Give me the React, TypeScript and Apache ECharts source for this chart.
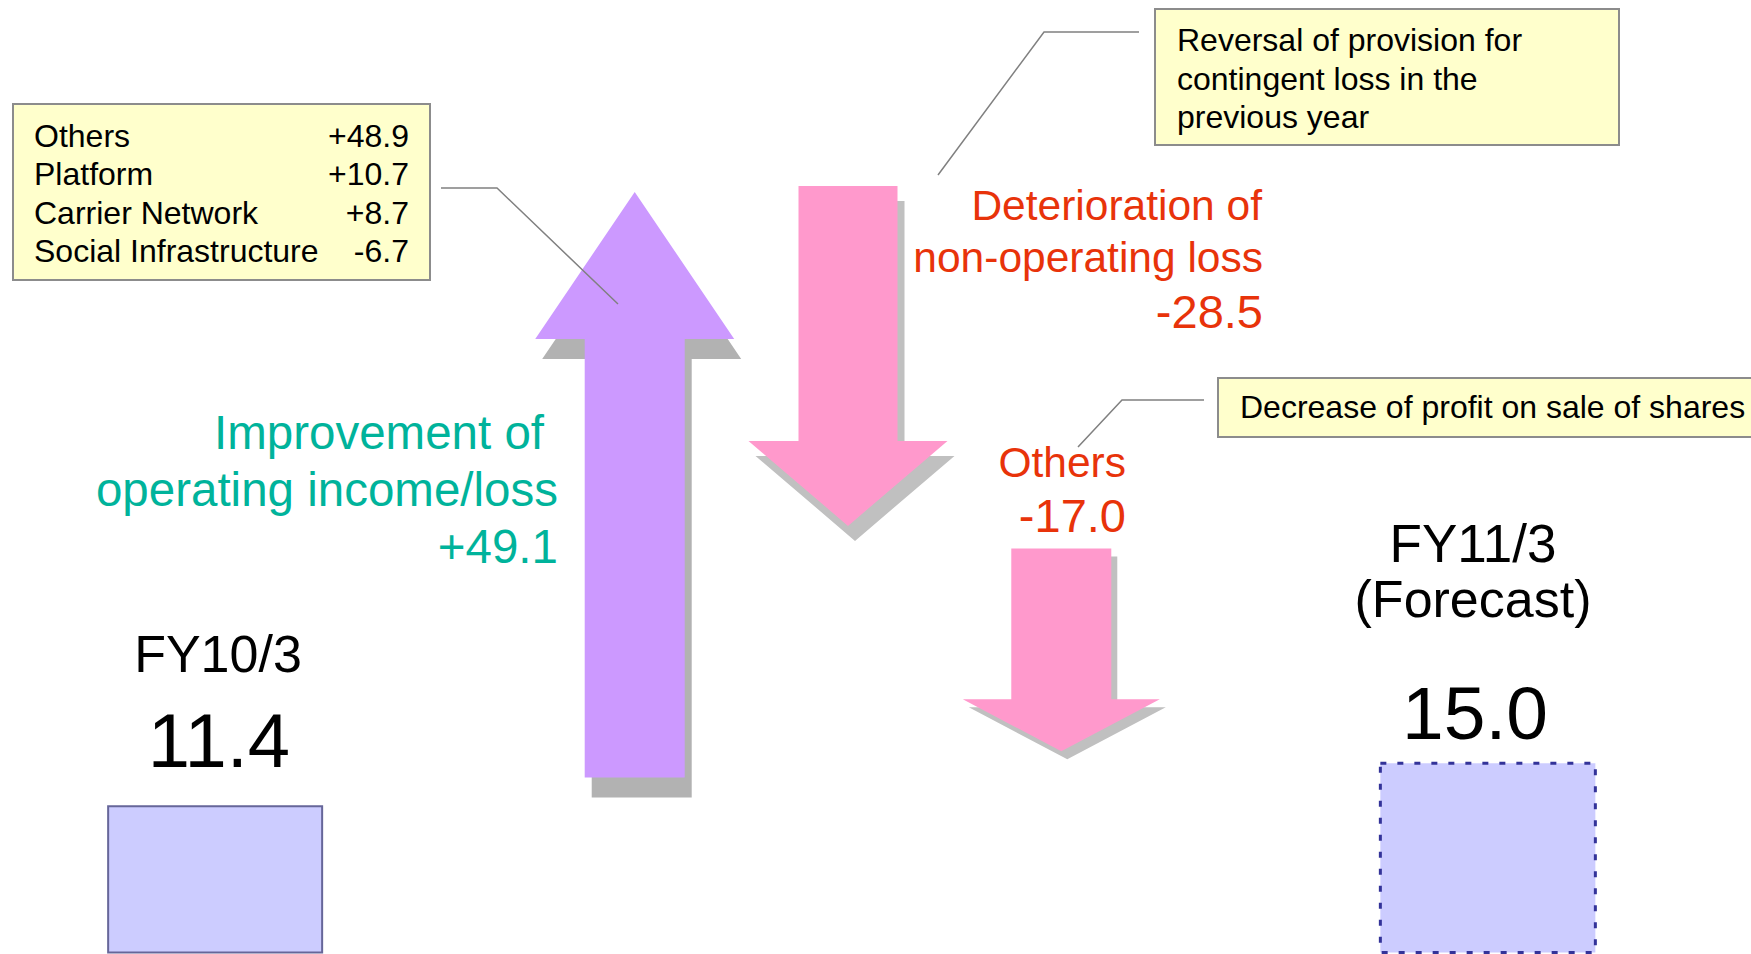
import React, { useEffect, useRef } from "react";
import * as echarts from "echarts";

// ---------- data ----------
const categories = ["FY10/3", " ", "Operating", "Non-operating", "Others", "  ", "FY11/3"];
const totalIndex = [0, 6];
const totalValues = [11.4, 15.0];
const changeIndex = [2, 3, 4];
const changeValues = [49.1, -28.5, -17.0];
const changeStarts = [13.8, 63.4, 33.0];
const breakdownNames = ["Others", "Platform", "Carrier Network", "Social Infrastructure"];
const breakdownValues = [48.9, 10.7, 8.7, -6.7];
const notes = [
  ["Reversal of provision for", "contingent loss in the", "previous year"],
  ["Decrease of profit on sale of shares"],
];

// ---------- styles ----------
const FONT = "'Liberation Sans', Arial, sans-serif";
const GREEN = "#00B39B";
const RED = "#E8330A";
const NOTE_FILL = "#FFFFCC";
const NOTE_STROKE = "#8C8C8C";

const totalStyles = [
  { width: 214, shift: 3, fill: "#CCCCFF", stroke: "#666699", lineWidth: 2, lineDash: null as any },
  { width: 215, shift: 2, fill: "#CCCCFF", stroke: "#333399", lineWidth: 3, lineDash: [6, 11] },
];
const arrowStyles = [
  { fill: "#CC99FF", shadow: "#B2B2B2", dx: 7, dy: 20, shaft: 100, head: 199, headLen: 147, shift: -2 },
  { fill: "#FF99CC", shadow: "#C0C0C0", dx: 7, dy: 15, shaft: 99, head: 199, headLen: 85, shift: -1 },
  { fill: "#FF99CC", shadow: "#C0C0C0", dx: 6, dy: 8, shaft: 100, head: 197, headLen: 52, shift: 0 },
];

const signed = (v: number) => (v > 0 ? "+" : "") + v.toFixed(1);

const txt = (text: string, x: number, y: number, size: number, color: string, align: string) => ({
  type: "text",
  x,
  y,
  z: 100,
  silent: true,
  style: { text, fill: color, fontSize: size, fontFamily: FONT, align, verticalAlign: "middle" },
});

const totalData = totalIndex.map((c, i) => [c, totalValues[i]]);
const changeData = changeIndex.map((c, i) => [c, changeStarts[i], +(changeStarts[i] + changeValues[i]).toFixed(1)]);

function buildOption() {
  const graphics: any[] = [];
  // left breakdown note
  graphics.push({
    type: "rect", z: 100, shape: { x: 13, y: 104, width: 417, height: 176 },
    style: { fill: NOTE_FILL, stroke: NOTE_STROKE, lineWidth: 2 },
  });
  breakdownNames.forEach((n, i) => {
    graphics.push(txt(n, 34, 136 + i * 38.4, 32, "#000", "left"));
    graphics.push(txt(signed(breakdownValues[i]), 409, 136 + i * 38.4, 32, "#000", "right"));
  });
  graphics.push({
    type: "polyline", z: 100, shape: { points: [[441, 188], [497, 188], [618, 304]] },
    style: { stroke: "#808080", lineWidth: 1.5, fill: null },
  });
  // top-right note
  graphics.push({
    type: "rect", z: 100, shape: { x: 1155, y: 9, width: 464, height: 136 },
    style: { fill: NOTE_FILL, stroke: NOTE_STROKE, lineWidth: 2 },
  });
  notes[0].forEach((l, i) => graphics.push(txt(l, 1177, 40 + i * 38.5, 32, "#000", "left")));
  graphics.push({
    type: "polyline", z: 100, shape: { points: [[1139, 32], [1044, 32], [938, 175]] },
    style: { stroke: "#808080", lineWidth: 1.5, fill: null },
  });
  // right note
  graphics.push({
    type: "rect", z: 100, shape: { x: 1218, y: 378, width: 560, height: 59 },
    style: { fill: NOTE_FILL, stroke: NOTE_STROKE, lineWidth: 2 },
  });
  graphics.push(txt(notes[1][0], 1240, 407, 32, "#000", "left"));
  graphics.push({
    type: "polyline", z: 100, shape: { points: [[1204, 400], [1122, 400], [1078, 447]] },
    style: { stroke: "#808080", lineWidth: 1.5, fill: null },
  });

  // totals labels
  graphics.push(txt(categories[totalIndex[0]], 218, 654, 52, "#000", "center"));
  graphics.push(txt(totalValues[0].toFixed(1), 219, 740, 76, "#000", "center"));
  graphics.push(txt(categories[totalIndex[1]], 1473, 543, 53, "#000", "center"));
  graphics.push(txt("(Forecast)", 1473, 599, 52, "#000", "center"));
  graphics.push(txt(totalValues[1].toFixed(1), 1475, 713, 75, "#000", "center"));

  // change labels
  graphics.push(txt("Improvement of", 544, 432, 47.5, GREEN, "right"));
  graphics.push(txt("operating income/loss", 558, 489, 47.5, GREEN, "right"));
  graphics.push(txt(signed(changeValues[0]), 558, 546, 47.5, GREEN, "right"));
  graphics.push(txt("Deterioration of", 1262, 205, 42.5, RED, "right"));
  graphics.push(txt("non-operating loss", 1263, 257, 42.5, RED, "right"));
  graphics.push(txt(signed(changeValues[1]), 1263, 311, 47, RED, "right"));
  graphics.push(txt(categories[changeIndex[2]], 1126, 462, 42.5, RED, "right"));
  graphics.push(txt(signed(changeValues[2]), 1126, 515, 47, RED, "right"));

  return {
    animation: false,
    backgroundColor: "#FFFFFF",
    grid: { left: 106, right: 159, top: 0, bottom: 0, containLabel: false },
    xAxis: { type: "category", data: categories, show: false, boundaryGap: true },
    yAxis: { type: "value", min: -1, max: 79, show: false },
    series: [
      {
        type: "custom",
        name: "totals",
        data: totalData,
        encode: { x: 0, y: 1 },
        z: 2,
        renderItem: (params: any, api: any) => {
          const st = totalStyles[params.dataIndex];
          const cs = params.coordSys;
          const p = api.coord([api.value(0), api.value(1)]);
          const bottom = cs.y + cs.height - 1.5;
          const cx = p[0] + st.shift;
          return {
            type: "rect",
            shape: { x: cx - st.width / 2, y: p[1], width: st.width, height: bottom - p[1] },
            style: { fill: st.fill, stroke: st.stroke, lineWidth: st.lineWidth, lineDash: st.lineDash },
          };
        },
      },
      {
        type: "custom",
        name: "changes",
        data: changeData,
        encode: { x: 0, y: [1, 2] },
        z: 3,
        renderItem: (params: any, api: any) => {
          const st = arrowStyles[params.dataIndex];
          const a = api.coord([api.value(0), api.value(1)]);
          const b = api.coord([api.value(0), api.value(2)]);
          const cx = a[0] + st.shift;
          const y0 = a[1];
          const y1 = b[1];
          const d = y1 > y0 ? 1 : -1;
          const yb = y1 - d * st.headLen;
          const sw = st.shaft / 2;
          const hw = st.head / 2;
          const pts = [
            [cx - sw, y0], [cx + sw, y0], [cx + sw, yb], [cx + hw, yb],
            [cx, y1], [cx - hw, yb], [cx - sw, yb],
          ];
          return {
            type: "group",
            children: [
              { type: "polygon", shape: { points: pts.map((q) => [q[0] + st.dx, q[1] + st.dy]) }, style: { fill: st.shadow } },
              { type: "polygon", shape: { points: pts }, style: { fill: st.fill } },
            ],
          };
        },
      },
    ],
    graphic: graphics,
  };
}

export default function App() {
  const ref = useRef<HTMLDivElement>(null);
  useEffect(() => {
    document.body.style.margin = "0";
    const chart = echarts.init(ref.current!, null, { renderer: "svg" });
    chart.setOption(buildOption() as any);
    return () => chart.dispose();
  }, []);
  return <div ref={ref} style={{ width: 1751, height: 954, background: "#fff" }} />;
}
